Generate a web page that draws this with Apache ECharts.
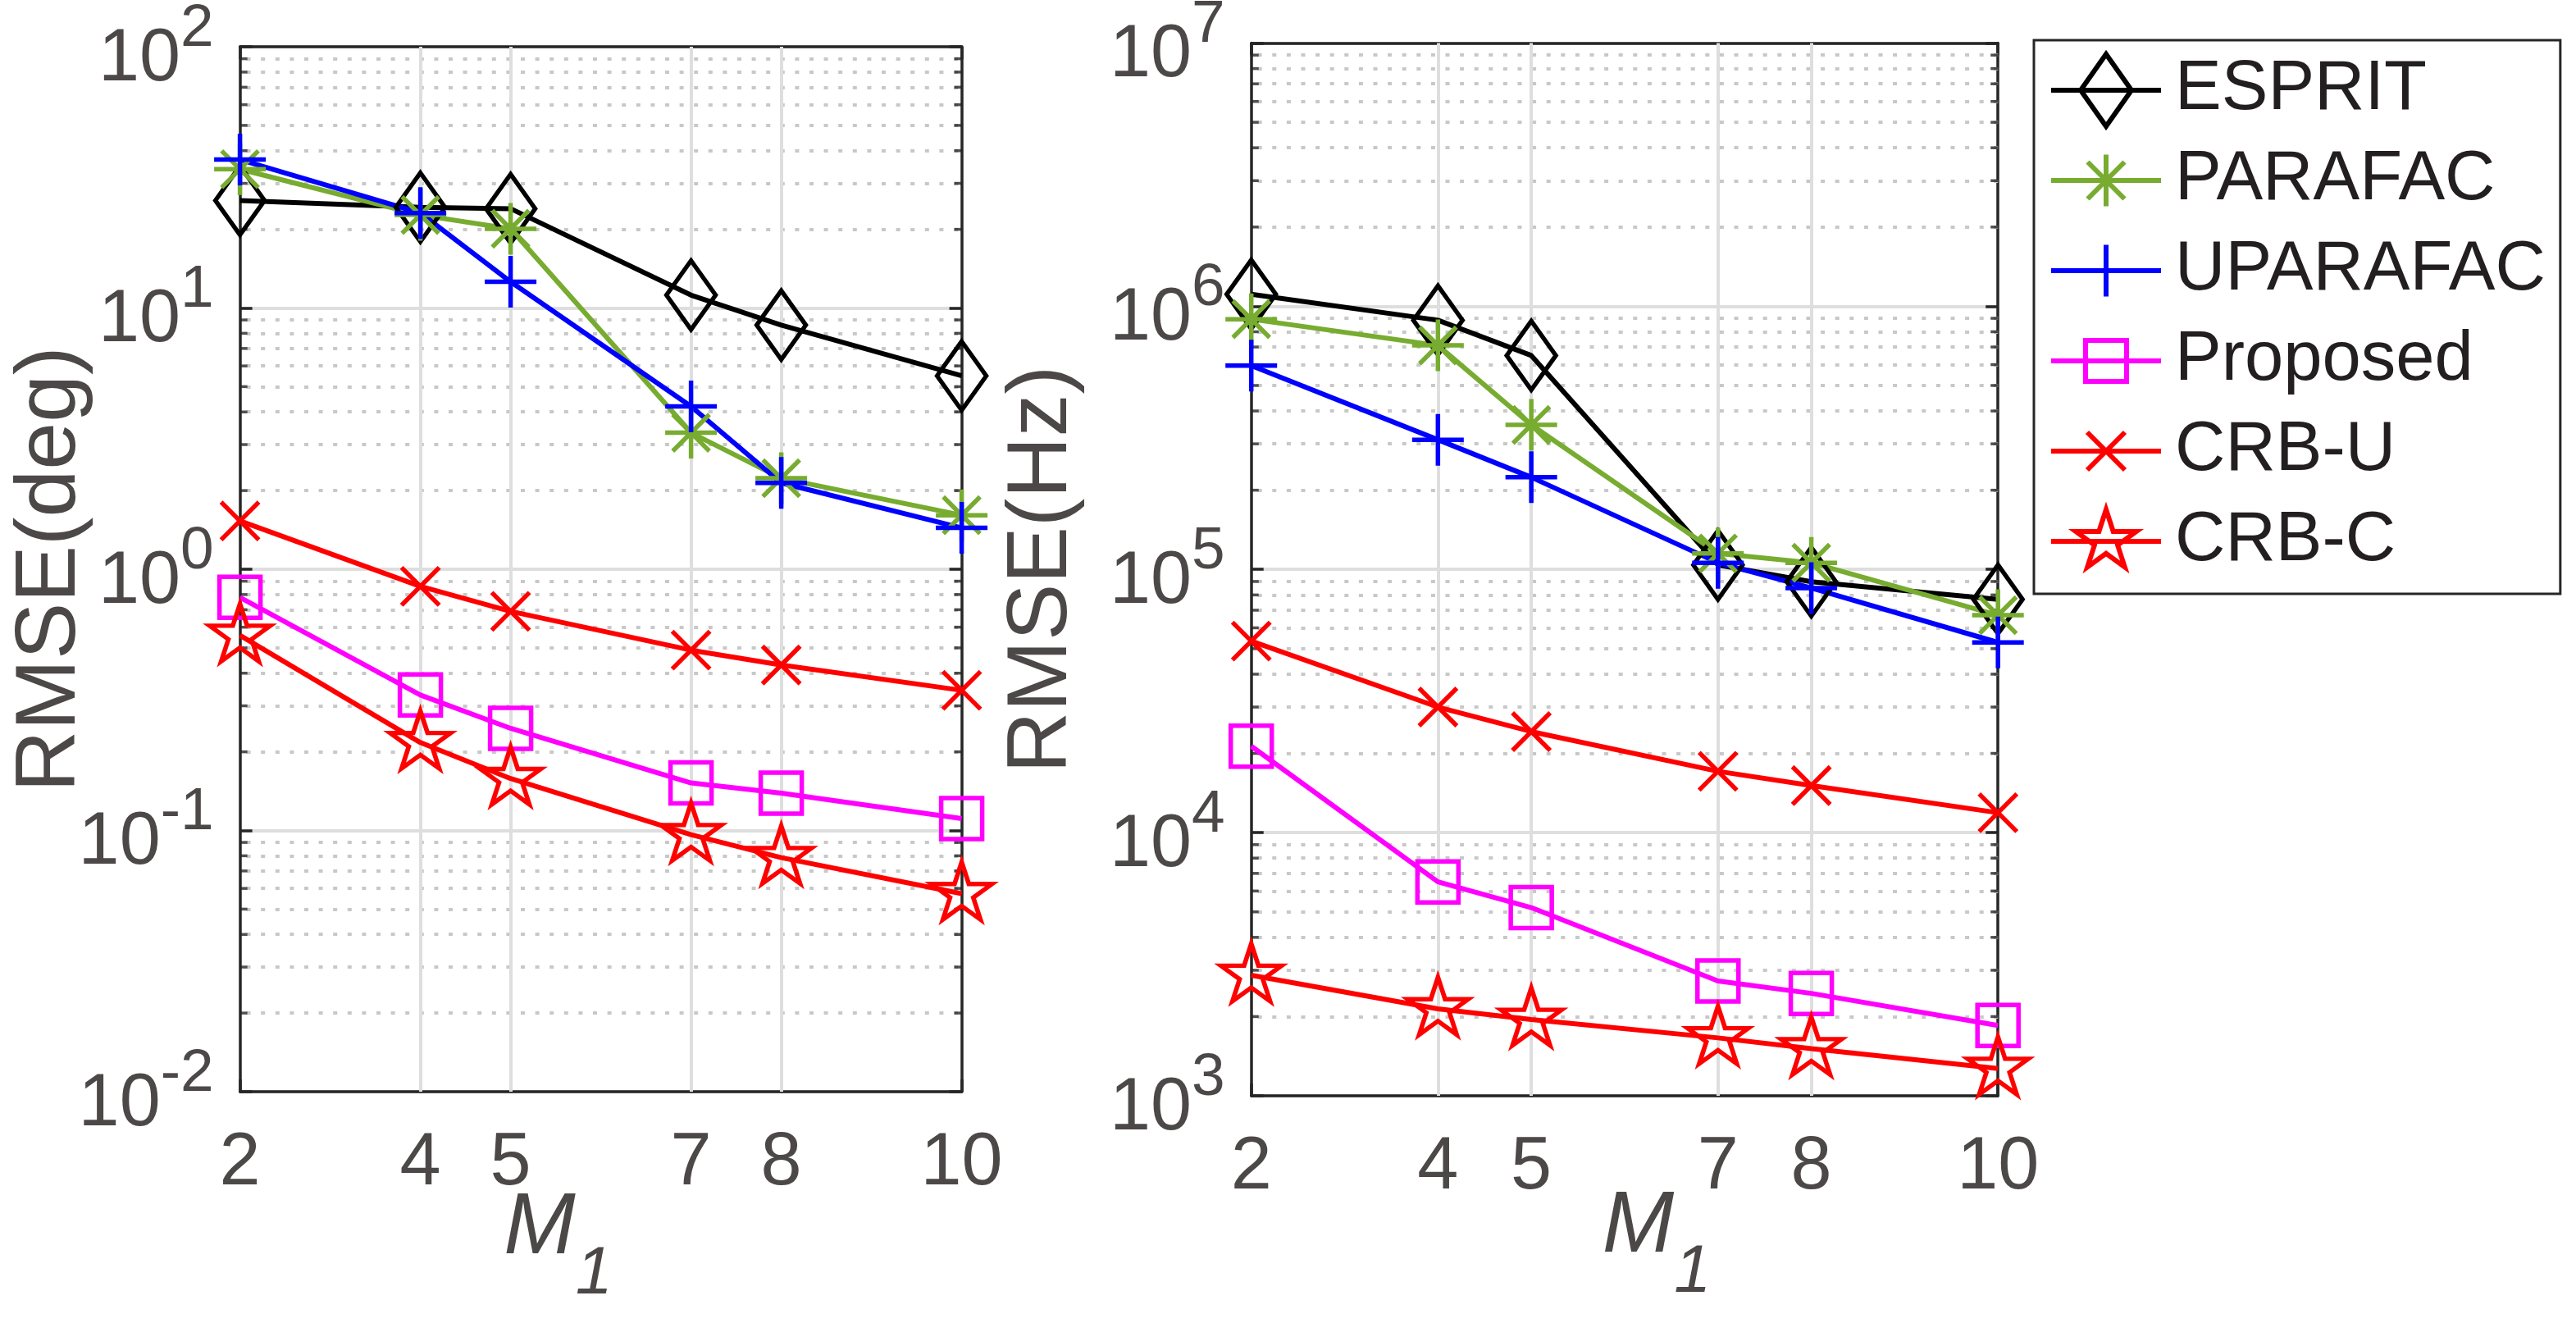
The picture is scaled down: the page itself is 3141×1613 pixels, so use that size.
<!DOCTYPE html>
<html>
<head>
<meta charset="utf-8">
<title>RMSE vs M1</title>
<script src="https://cdn.jsdelivr.net/npm/echarts@6.0.0/dist/echarts.min.js"></script>
<style>
    html, body { margin: 0; padding: 0; background: #fff; }
    #chart { width: 3141px; height: 1613px; }
</style>
</head>
<body>
<div id="chart"></div>
<script>
// 横轴 M1
const m1Values = [2, 4, 5, 7, 8, 10];
const seriesNames = ['ESPRIT', 'PARAFAC', 'UPARAFAC', 'Proposed', 'CRB-U', 'CRB-C'];

// 左图 RMSE(deg)
const espritDeg = [25.8, 24.3, 24.0, 11.2, 8.6, 5.5];
const parafacDeg = [34, 22.7, 20.1, 3.33, 2.23, 1.61];
const uparafacDeg = [37, 23.1, 12.6, 4.2, 2.14, 1.44];
const proposedDeg = [0.78, 0.33, 0.246, 0.152, 0.139, 0.111];
const crbUDeg = [1.53, 0.86, 0.69, 0.49, 0.43, 0.344];
const crbCDeg = [0.558, 0.217, 0.158, 0.0964, 0.0787, 0.0573];

// 右图 RMSE(Hz)
const espritHz = [1.11e6, 8.85e5, 6.5e5, 1.04e5, 8.98e4, 7.7e4];
const parafacHz = [8.93e5, 7.1e5, 3.54e5, 1.15e5, 1.06e5, 6.7e4];
const uparafacHz = [5.95e5, 3.11e5, 2.24e5, 1.06e5, 8.5e4, 5.28e4];
const proposedHz = [2.13e4, 6.5e3, 5.19e3, 2.73e3, 2.45e3, 1.85e3];
const crbUHz = [5.34e4, 3.0e4, 2.42e4, 1.71e4, 1.51e4, 1.19e4];
const crbCHz = [2.87e3, 2.14e3, 1.95e3, 1.66e3, 1.51e3, 1.27e3];

// 刻度
const xTicks = [2, 4, 5, 7, 8, 10];
const decadesDeg = [0.01, 0.1, 1, 10];
const decadesHz = [1e3, 1e4, 1e5, 1e6];
const minorSteps = [2, 3, 4, 5, 6, 7, 8, 9];

const FONT = '"Liberation Sans", Arial, Helvetica, sans-serif';
const TXT = '#4d4848';
const AXIS = '#262626';

// 标记形状 (MATLAB 风格, 空心)
const STAR = 'path://M0,-1L0.2245,-0.309L0.951,-0.309L0.3633,0.118L0.5878,0.809L0,0.382L-0.5878,0.809L-0.3633,0.118L-0.951,-0.309L-0.2245,-0.309Z';
const styles = {
    'ESPRIT': { color: '#000000', symbol: 'path://M0,-1L0.72,0L0,1L-0.72,0Z', size: [60, 84] },
    'PARAFAC': { color: '#77ac30', symbol: 'path://M-1,0L1,0M0,-1L0,1M-0.71,-0.71L0.71,0.71M-0.71,0.71L0.71,-0.71', size: [63, 63] },
    'UPARAFAC': { color: '#0000ff', symbol: 'path://M-1,0L1,0M0,-1L0,1', size: [63, 63] },
    'Proposed': { color: '#ff00ff', symbol: 'path://M-1,-1L1,-1L1,1L-1,1Z', size: [50, 50] },
    'CRB-U': { color: '#ff0000', symbol: 'path://M-1,-1L1,1M-1,1L1,-1', size: [46, 46] },
    'CRB-C': { color: '#ff0000', symbol: STAR, size: [74, 70], offset: [0, -3.5] }
};

// 图例图标: 线段 + 标记, 画在 134x88 的框内
const legendIcons = {
    'ESPRIT': 'path://M0,0L0,0M134,88L134,88M0,44L134,44M67,0L98,44L67,88L36,44Z',
    'PARAFAC': 'path://M0,0L0,0M134,88L134,88M0,44L134,44M67,12.5L67,75.5M44.5,21.5L89.5,66.5M44.5,66.5L89.5,21.5',
    'UPARAFAC': 'path://M0,0L0,0M134,88L134,88M0,44L134,44M67,12.5L67,75.5',
    'Proposed': 'path://M0,0L0,0M134,88L134,88M0,44L134,44M42,19L92,19L92,69L42,69Z',
    'CRB-U': 'path://M0,0L0,0M134,88L134,88M0,44L134,44M44,21L90,67M44,67L90,21',
    'CRB-C': 'path://M0,0L0,0M134,88L134,88M0,44L134,44M67,5.2L75.7,32L103.9,32L81.1,48.6L89.8,75.4L67,58.8L44.2,75.4L52.9,48.6L30.1,32L58.3,32Z'
};

function minorsOf(decades) {
    const out = [];
    decades.forEach(d => minorSteps.forEach(m => out.push(+(m * d).toPrecision(3))));
    return out;
}

function makeSeries(name, values, g) {
    const s = styles[name];
    return {
        name: name,
        type: 'line',
        xAxisIndex: g * 2,
        yAxisIndex: g * 2,
        data: m1Values.map((x, i) => [x, values[i]]),
        symbol: s.symbol,
        symbolSize: s.size,
        symbolOffset: s.offset || [0, 0],
        lineStyle: { color: s.color, width: 6 },
        itemStyle: { color: 'transparent', borderColor: s.color, borderWidth: 5.5 },
        clip: false,
        z: 10,
        emphasis: { disabled: true }
    };
}

// 次刻度与网格线
function makeGridDecor(decades, g) {
    const minors = minorsOf(decades);
    const tickData = [];
    minors.forEach(v => {
        tickData.push({ value: [2, v], symbolOffset: [4.5, 0] });
        tickData.push({ value: [10, v], symbolOffset: [-4.5, 0] });
    });
    const dotted = { color: '#c8c8c8', width: 4, type: [5, 12.6], dashOffset: 9.6 };
    const major = { color: '#dedede', width: 4, type: 'solid' };
    return {
        type: 'scatter',
        xAxisIndex: g * 2,
        yAxisIndex: g * 2,
        silent: true,
        z: 3,
        symbol: 'rect',
        symbolSize: [9, 3.5],
        itemStyle: { color: AXIS },
        data: tickData,
        markLine: {
            silent: true,
            z: 1,
            symbol: ['none', 'none'],
            label: { show: false },
            emphasis: { disabled: true },
            data: minors.map(v => ({ yAxis: v, lineStyle: dotted }))
                .concat(xTicks.slice(1, -1).map(x => ({ xAxis: x, lineStyle: major })))
        }
    };
}

const axisLine = { show: true, lineStyle: { color: AXIS, width: 3.5 } };
const axisTick = { show: true, inside: true, length: 15, lineStyle: { color: AXIS, width: 3.5 } };

function makeXAxes(g, nameGap, namePadding) {
    return [{
        type: 'value', gridIndex: g, min: 2, max: 10, interval: 1, position: 'bottom',
        name: '{m|M}{s|1}', nameLocation: 'middle', nameGap: nameGap, nameMoveOverlap: false,
        nameTextStyle: {
            padding: namePadding,
            rich: {
                m: { fontSize: 105, fontStyle: 'italic', fontFamily: FONT, color: TXT },
                s: { fontSize: 81, fontStyle: 'italic', fontFamily: FONT, color: TXT, padding: [112, 0, 0, 0] }
            }
        },
        axisLine: axisLine,
        axisTick: Object.assign({ customValues: xTicks }, axisTick),
        axisLabel: { customValues: xTicks, fontSize: 90, fontFamily: FONT, color: TXT, margin: 43 },
        splitLine: { show: false }
    }, {
        type: 'value', gridIndex: g, min: 2, max: 10, interval: 1, position: 'top',
        axisLine: axisLine,
        axisTick: Object.assign({ customValues: xTicks }, axisTick),
        axisLabel: { show: false },
        splitLine: { show: false }
    }];
}

function makeYAxes(g, min, max, name, nameGap) {
    return [{
        type: 'log', logBase: 10, gridIndex: g, min: min, max: max, position: 'left',
        name: name, nameLocation: 'middle', nameGap: nameGap, nameMoveOverlap: false,
        nameTextStyle: { fontSize: 104, fontFamily: FONT, color: TXT },
        axisLine: axisLine,
        axisTick: axisTick,
        axisLabel: {
            margin: 32,
            formatter: v => '{b|10}{s|' + Math.round(Math.log10(v)) + '}',
            rich: {
                b: { fontSize: 90, fontFamily: FONT, color: TXT, padding: [32, 0, 0, 0] },
                s: { fontSize: 73, fontFamily: FONT, color: TXT, padding: [0, 0, 43, 0] }
            }
        },
        splitLine: { show: true, lineStyle: { color: '#dedede', width: 4 } }
    }, {
        type: 'log', logBase: 10, gridIndex: g, min: min, max: max, position: 'right',
        axisLine: axisLine,
        axisTick: axisTick,
        axisLabel: { show: false },
        splitLine: { show: false }
    }];
}

const degData = [espritDeg, parafacDeg, uparafacDeg, proposedDeg, crbUDeg, crbCDeg];
const hzData = [espritHz, parafacHz, uparafacHz, proposedHz, crbUHz, crbCHz];

const option = {
    backgroundColor: '#ffffff',
    animation: false,
    grid: [
        { left: 292.6, top: 57, width: 880, height: 1274, outerBoundsMode: 'none' },
        { left: 1525.7, top: 52.5, width: 910.5, height: 1283.5, outerBoundsMode: 'none' }
    ],
    xAxis: makeXAxes(0, 71, [0, 104, 0, 0]).concat(makeXAxes(1, 64, [0, 0, 0, 78])),
    yAxis: makeYAxes(0, 0.01, 100, 'RMSE(deg)', 178).concat(makeYAxes(1, 1e3, 1e7, 'RMSE(Hz)', 202)),
    legend: {
        orient: 'vertical',
        left: 2480,
        top: 49,
        padding: [14, 18, 17, 18],
        itemWidth: 134,
        itemHeight: 88,
        itemGap: 16,
        borderColor: AXIS,
        borderWidth: 3,
        backgroundColor: '#ffffff',
        selectedMode: false,
        textStyle: { fontSize: 85, fontFamily: FONT, color: '#231f20', padding: [0, 0, 0, 12] },
        data: seriesNames.map(n => ({
            name: n,
            icon: legendIcons[n],
            itemStyle: { color: 'transparent', borderColor: styles[n].color, borderWidth: 6 }
        }))
    },
    series: [makeGridDecor(decadesDeg, 0), makeGridDecor(decadesHz, 1)]
        .concat(seriesNames.map((n, i) => makeSeries(n, degData[i], 0)))
        .concat(seriesNames.map((n, i) => makeSeries(n, hzData[i], 1)))
};

const chart = echarts.init(document.getElementById('chart'));
chart.setOption(option);
window.addEventListener('resize', () => chart.resize());
</script>
</body>
</html>
